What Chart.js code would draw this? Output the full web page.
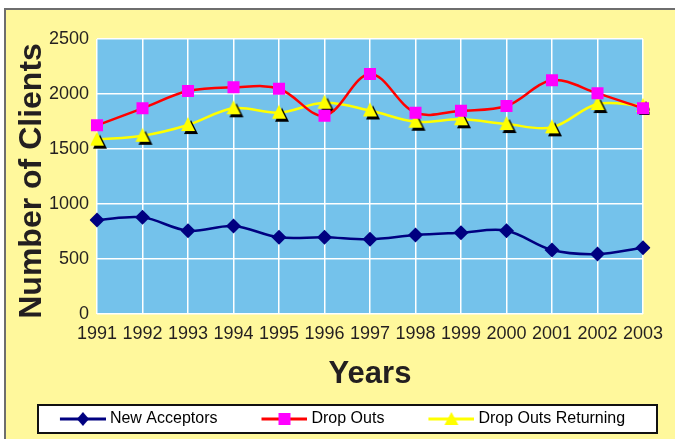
<!DOCTYPE html>
<html>
<head>
<meta charset="utf-8">
<script src="https://cdn.jsdelivr.net/npm/chart.js@4.4.1/dist/chart.umd.min.js"></script>
<style>
  html, body { margin: 0; padding: 0; background: #fff; }
</style>
</head>
<body>
<canvas id="clients_chart" width="675" height="439"></canvas>
<script>
const years = ['1991', '1992', '1993', '1994', '1995', '1996', '1997', '1998', '1999', '2000', '2001', '2002', '2003'];
const newAcceptors = [855, 879, 757, 800, 697, 697, 679, 718, 739, 757, 582, 545, 603];
const dropOuts = [1715, 1870, 2027, 2061, 2048, 1803, 2182, 1830, 1848, 1891, 2124, 2006, 1870];
const dropOutsReturning = [1585, 1620, 1718, 1870, 1830, 1921, 1850, 1748, 1770, 1727, 1697, 1909, 1891];
const yTicks = [0, 500, 1000, 1500, 2000, 2500];
const seriesNames = ['New Acceptors', 'Drop Outs', 'Drop Outs Returning'];

const fontFamily = '"Liberation Sans", Arial, sans-serif';
const textColor = '#231f20';

// yellow triangle with a black drop shadow, used as point style
const makeTriangle = (shadow) => {
    const c = document.createElement('canvas');
    c.width = 24;
    c.height = 24;
    const ctx = c.getContext('2d');
    const tri = (cx, cy, color) => {
        ctx.beginPath();
        ctx.moveTo(cx, cy - 8);
        ctx.lineTo(cx + 7, cy + 6);
        ctx.lineTo(cx - 7, cy + 6);
        ctx.closePath();
        ctx.fillStyle = color;
        ctx.fill();
    };
    if(shadow){
        tri(15, 15, '#000');
    }
    tri(12, 12, '#ffff00');
    return c;
};

// legend icon: line with the marker in the middle
// canvas is wider than pointStyleWidth so the line ends right before the text
const iconBox = 84;
const makeLegendIcon = (lineColor, drawMarker) => {
    const c = document.createElement('canvas');
    c.width = iconBox + 8;
    c.height = 16;
    const ctx = c.getContext('2d');
    const x0 = c.width - 46;
    ctx.strokeStyle = lineColor;
    ctx.lineWidth = 3;
    ctx.beginPath();
    ctx.moveTo(x0, 8);
    ctx.lineTo(c.width, 8);
    ctx.stroke();
    drawMarker(ctx, x0 + 23, 8);
    return c;
};

const legendIcons = [
    makeLegendIcon('#000080', (ctx, x, y) => {
        ctx.fillStyle = '#000080';
        ctx.beginPath();
        ctx.moveTo(x, y - 7);
        ctx.lineTo(x + 6, y);
        ctx.lineTo(x, y + 7);
        ctx.lineTo(x - 6, y);
        ctx.closePath();
        ctx.fill();
    }),
    makeLegendIcon('#ff0000', (ctx, x, y) => {
        ctx.fillStyle = '#ff00ff';
        ctx.fillRect(x - 6, y - 6, 12, 12);
    }),
    makeLegendIcon('#ffff00', (ctx, x, y) => {
        ctx.fillStyle = '#ffff00';
        ctx.beginPath();
        ctx.moveTo(x, y - 7);
        ctx.lineTo(x + 7, y + 6);
        ctx.lineTo(x - 7, y + 6);
        ctx.closePath();
        ctx.fill();
    })
];

const backgroundPlugin = {
    id: 'background',
    beforeDraw(chart) {
        const ctx = chart.ctx;
        const area = chart.chartArea;
        ctx.save();
        ctx.fillStyle = '#ffffff';
        ctx.fillRect(0, 0, chart.width, chart.height);
        ctx.fillStyle = '#fff89c';
        ctx.fillRect(5, 9, chart.width - 5, chart.height - 9);
        ctx.strokeStyle = '#6e6e6e';
        ctx.lineWidth = 2;
        ctx.beginPath();
        ctx.moveTo(5, chart.height);
        ctx.lineTo(5, 9);
        ctx.lineTo(chart.width, 9);
        ctx.stroke();

        ctx.fillStyle = '#74c2eb';
        ctx.fillRect(area.left, area.top, area.right - area.left, area.bottom - area.top);

        // legend frame
        ctx.fillStyle = '#ffffff';
        ctx.fillRect(38, 405, 619, 28);
        ctx.strokeStyle = '#111111';
        ctx.lineWidth = 2;
        ctx.strokeRect(38, 405, 619, 28);
        ctx.restore();
    }
};

const data = {
    labels: years,
    datasets: [
        {
            label: seriesNames[0],
            data: newAcceptors,
            borderColor: '#000080',
            backgroundColor: '#000080',
            borderWidth: 2.5,
            pointStyle: 'rectRot',
            pointRadius: 7.5,
            pointBorderWidth: 0,
            tension: 0.35
        },
        {
            label: seriesNames[1],
            data: dropOuts,
            borderColor: '#ff0000',
            backgroundColor: '#ff00ff',
            borderWidth: 2.5,
            pointStyle: 'rect',
            pointRadius: 8.5,
            pointBorderWidth: 0,
            tension: 0.35
        },
        {
            label: seriesNames[2],
            data: dropOutsReturning,
            borderColor: '#ffff00',
            backgroundColor: '#ffff00',
            borderWidth: 2.5,
            pointStyle: makeTriangle(true),
            tension: 0.35
        }
    ]
};

const config = {
    type: 'line',
    data: data,
    options: {
        responsive: false,
        animation: false,
        devicePixelRatio: 1,
        layout: {
            padding: { left: 0, right: 32, top: 39, bottom: 2 }
        },
        scales: {
            x: {
                offset: false,
                afterFit: (scale) => { scale.height = 95; },
                grid: { color: '#ffffff', lineWidth: 1.5, drawTicks: false },
                border: { display: false },
                ticks: {
                    color: textColor,
                    font: { family: fontFamily, size: 18 },
                    padding: 9,
                    maxRotation: 0,
                    autoSkip: false
                },
                title: {
                    display: true,
                    text: 'Years',
                    color: textColor,
                    font: { family: fontFamily, size: 31, weight: 'bold' },
                    padding: { top: 0, bottom: 16 }
                }
            },
            y: {
                min: 0,
                max: 2500,
                afterFit: (scale) => { scale.width = 97; },
                afterBuildTicks: (scale) => { scale.ticks = yTicks.map(v => ({ value: v })); },
                grid: { color: '#ffffff', lineWidth: 1.5, drawTicks: false },
                border: { display: false },
                ticks: {
                    color: textColor,
                    font: { family: fontFamily, size: 18 },
                    padding: 8,
                    callback: (value) => String(value)
                },
                title: {
                    display: true,
                    // trailing space nudges the rotated title down a little
                    text: 'Number of Clients ',
                    color: textColor,
                    font: { family: fontFamily, size: 32, weight: 'bold' },
                    padding: { top: 13, bottom: 0 }
                }
            }
        },
        plugins: {
            legend: {
                position: 'bottom',
                labels: {
                    usePointStyle: true,
                    pointStyleWidth: iconBox,
                    color: '#000000',
                    font: { family: fontFamily, size: 16 },
                    padding: 2,
                    generateLabels: (chart) => {
                        const items = Chart.defaults.plugins.legend.labels.generateLabels(chart);
                        items.forEach((item, i) => { item.pointStyle = legendIcons[i]; });
                        return items;
                    }
                }
            },
            tooltip: { enabled: false }
        }
    },
    plugins: [backgroundPlugin]
};

const clientsChart = new Chart(document.getElementById('clients_chart'), config);
</script>
</body>
</html>
